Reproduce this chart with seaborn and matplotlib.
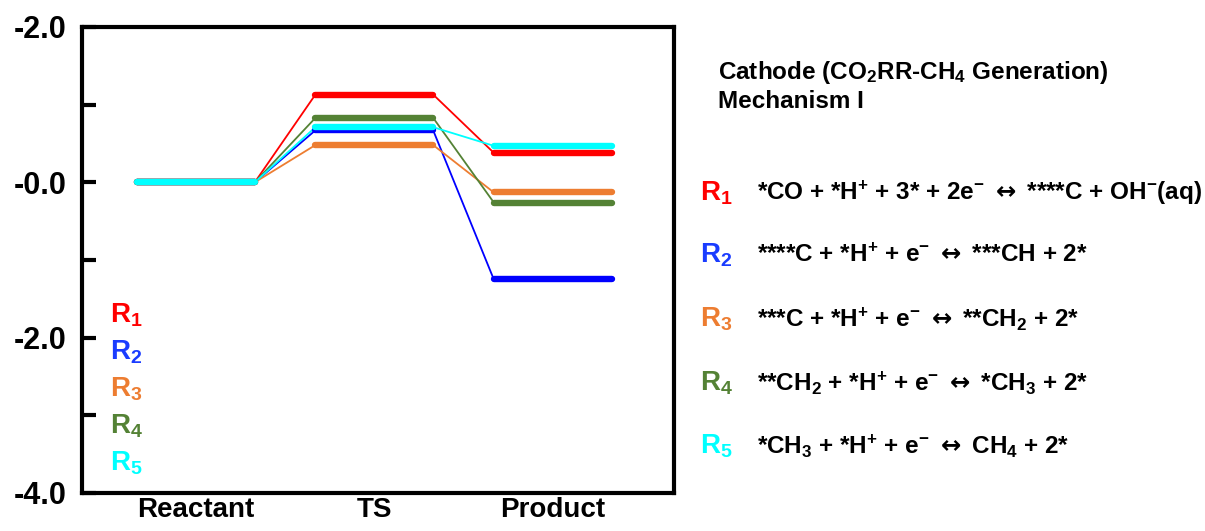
import numpy as np
import pandas as pd
import seaborn as sns
import matplotlib
matplotlib.use("Agg")
import matplotlib.pyplot as plt

# Energy profile data (three states per elementary step)
stages = ["Reactant", "TS", "Product"]
series = ["R1", "R2", "R3", "R4", "R5"]
reactant = [0.0, 0.0, 0.0, 0.0, 0.0]
ts = [1.13, 0.67, 0.48, 0.83, 0.71]
product = [0.38, -1.25, -0.13, -0.26, 0.47]
colors = ["#FF0000", "#0000FF", "#ED7D31", "#548235", "#00FFFF"]
label_colors = ["#FF0000", "#1A3CFF", "#ED7D31", "#548235", "#00FFFF"]

ytick_values = [2, 0, -2, -4]
ytick_labels = ["-2.0", "-0.0", "-2.0", "-4.0"]

ARROW = r"$\mathsf{\leftrightarrow}$"
reactions = [
    r"*CO + *H$^{+}$ + 3* + 2e$^{-}$ " + ARROW + r" ****C + OH$^{-}$(aq)",
    r"****C + *H$^{+}$ + e$^{-}$ " + ARROW + r" ***CH + 2*",
    r"***C + *H$^{+}$ + e$^{-}$ " + ARROW + r" **CH$_{2}$ + 2*",
    r"**CH$_{2}$ + *H$^{+}$ + e$^{-}$ " + ARROW + r" *CH$_{3}$ + 2*",
    r"*CH$_{3}$ + *H$^{+}$ + e$^{-}$ " + ARROW + r" CH$_{4}$ + 2*",
]

sns.set_theme(style="white")
plt.rcParams["font.family"] = ["Liberation Sans", "DejaVu Sans"]
plt.rcParams["font.weight"] = "bold"
plt.rcParams["text.color"] = "black"
plt.rcParams["xtick.color"] = "black"
plt.rcParams["ytick.color"] = "black"
plt.rcParams["mathtext.fontset"] = "custom"
plt.rcParams["mathtext.rm"] = "Liberation Sans:bold"
plt.rcParams["mathtext.it"] = "Liberation Sans:bold"
plt.rcParams["mathtext.bf"] = "Liberation Sans:bold"
plt.rcParams["mathtext.sf"] = "DejaVu Sans"

half = 0.33
pos = np.arange(len(stages))

rows = []
for i, name in enumerate(series):
    energies = [reactant[i], ts[i], product[i]]
    order = 0
    for p, e in zip(pos, energies):
        for dx in (-half, half):
            rows.append({"series": name, "x": p + dx, "E": e, "order": order})
            order += 1
df = pd.DataFrame(rows)

fig = plt.figure(figsize=(12.05, 5.31), dpi=100)
ax = fig.add_axes([0.068, 0.0716, 0.491, 0.8776])

# thin connectors through every level end
sns.lineplot(data=df, x="x", y="E", hue="series", units="series",
             estimator=None, sort=False, palette=colors, linewidth=1.3,
             legend=False, ax=ax)

# thick energy levels
for i, name in enumerate(series):
    sub = df[df["series"] == name]
    for k in range(0, len(sub), 2):
        seg = sub.iloc[k:k + 2]
        ax.plot(seg["x"], seg["E"], color=colors[i], linewidth=4.6,
                solid_capstyle="round", zorder=3 + i)

ax.set_xlim(-0.639, 2.678)
ax.set_ylim(-4, 2)
ax.set_xticks(pos)
ax.set_xticklabels(stages, fontsize=20, fontweight="bold")
ax.set_yticks(ytick_values)
ax.set_yticklabels(ytick_labels, fontsize=22, fontweight="bold")
ax.set_yticks([1, -1, -3], minor=True)
ax.set_xlabel("")
ax.set_ylabel("")
ax.tick_params(axis="y", which="both", direction="in", length=10, width=3,
               pad=11, left=True, color="black")
ax.tick_params(axis="x", which="both", length=0, pad=3)
for s in ax.spines.values():
    s.set_linewidth(3)
    s.set_color("black")

# stacked series labels inside the axes
for i, name in enumerate(series):
    ax.text(0.048, 0.382 - i * 0.0794, f"R$_{{{i + 1}}}$", transform=ax.transAxes,
            fontsize=20, fontweight="bold", color=label_colors[i],
            ha="left", va="center")

# mechanism title and step equations
fig.text(0.596, 1 - 72 / 531, r"Cathode (CO$_{2}$RR-CH$_{4}$ Generation)",
         fontsize=17.5, fontweight="bold", ha="left", va="center")
fig.text(0.596, 1 - 101 / 531, "Mechanism I",
         fontsize=17.5, fontweight="bold", ha="left", va="center")
row_y = [193, 255, 319, 383, 446]
for i, (eq, yy) in enumerate(zip(reactions, row_y)):
    fig.text(0.581, 1 - yy / 531, f"R$_{{{i + 1}}}$", fontsize=20,
             fontweight="bold", color=label_colors[i], ha="left", va="center")
    fig.text(0.628, 1 - yy / 531, eq, fontsize=17.5, fontweight="bold",
             ha="left", va="center")

fig.savefig("out.png", dpi=100, facecolor="white")
